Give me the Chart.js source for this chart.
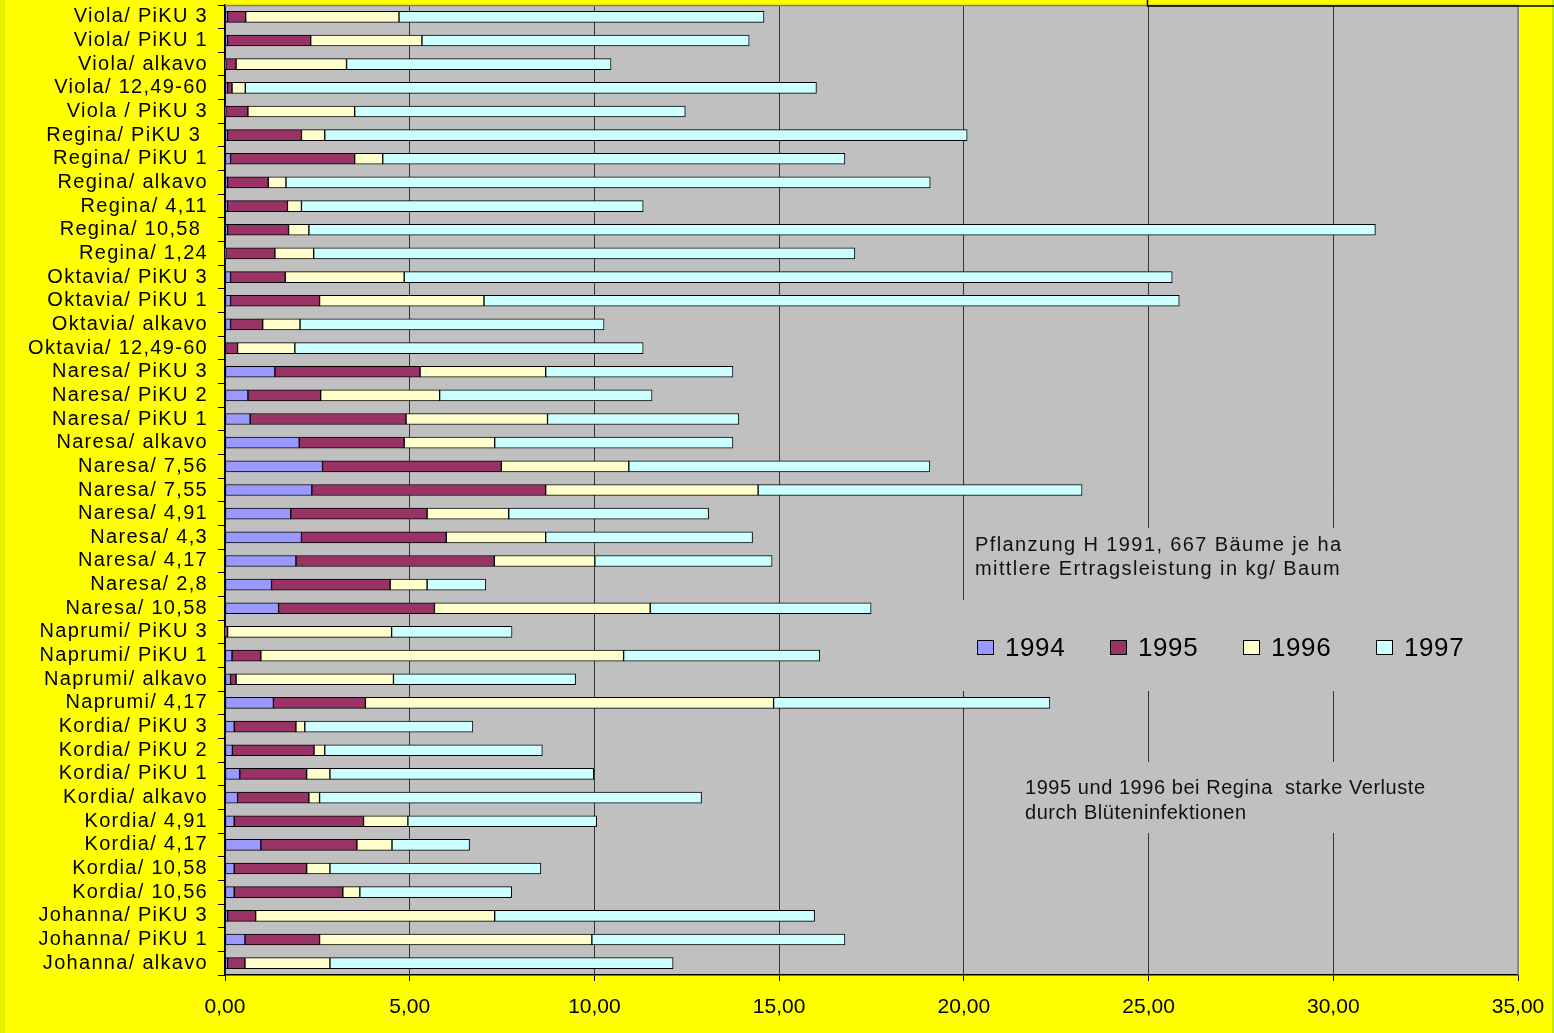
<!DOCTYPE html>
<html lang="de">
<head>
<meta charset="utf-8">
<title>Ertragsleistung Süßkirschen 1994–1997</title>
<script src="https://cdn.jsdelivr.net/npm/chart.js@4.4.1/dist/chart.umd.min.js"></script>
<style>
  html, body { margin: 0; padding: 0; background: #ffff00; overflow: hidden; }
  #wrap { width: 1554px; height: 1033px; }
</style>
</head>
<body>
<div id="wrap"><canvas id="chart" width="1554" height="1033"></canvas></div>
<script>
// Sorte / Unterlage, top to bottom
const categories = [
  'Viola/ PiKU 3', 'Viola/ PiKU 1', 'Viola/ alkavo', 'Viola/ 12,49-60', 'Viola / PiKU 3',
  'Regina/ PiKU 3 ', 'Regina/ PiKU 1', 'Regina/ alkavo', 'Regina/ 4,11', 'Regina/ 10,58 ', 'Regina/ 1,24',
  'Oktavia/ PiKU 3', 'Oktavia/ PiKU 1', 'Oktavia/ alkavo', 'Oktavia/ 12,49-60',
  'Naresa/ PiKU 3', 'Naresa/ PiKU 2', 'Naresa/ PiKU 1', 'Naresa/ alkavo', 'Naresa/ 7,56', 'Naresa/ 7,55',
  'Naresa/ 4,91', 'Naresa/ 4,3', 'Naresa/ 4,17', 'Naresa/ 2,8', 'Naresa/ 10,58',
  'Naprumi/ PiKU 3', 'Naprumi/ PiKU 1', 'Naprumi/ alkavo', 'Naprumi/ 4,17',
  'Kordia/ PiKU 3', 'Kordia/ PiKU 2', 'Kordia/ PiKU 1', 'Kordia/ alkavo', 'Kordia/ 4,91', 'Kordia/ 4,17',
  'Kordia/ 10,58', 'Kordia/ 10,56',
  'Johanna/ PiKU 3', 'Johanna/ PiKU 1', 'Johanna/ alkavo'
];

// Ertrag in kg je Baum
const yield1994 = [
  0.07, 0.07, 0.02, 0.07, 0.02,
  0.07, 0.15, 0.07, 0.07, 0.07, 0.02,
  0.15, 0.15, 0.15, 0.00,
  1.35, 0.62, 0.68, 2.01, 2.64, 2.35,
  1.78, 2.07, 1.92, 1.26, 1.45,
  0.02, 0.19, 0.15, 1.31,
  0.25, 0.20, 0.40, 0.34, 0.25, 0.97,
  0.25, 0.25,
  0.07, 0.54, 0.07
];
const yield1995 = [
  0.49, 2.25, 0.28, 0.12, 0.60,
  2.00, 3.36, 1.10, 1.62, 1.65, 1.33,
  1.48, 2.41, 0.87, 0.34,
  3.93, 1.97, 4.22, 2.84, 4.84, 6.33,
  3.69, 3.92, 5.37, 3.21, 4.22,
  0.05, 0.78, 0.15, 2.49,
  1.67, 2.21, 1.81, 1.93, 3.50, 2.60,
  1.96, 2.94,
  0.76, 2.02, 0.47
];
const yield1996 = [
  4.15, 3.01, 2.99, 0.36, 2.89,
  0.63, 0.76, 0.48, 0.38, 0.55, 1.05,
  3.22, 4.45, 1.01, 1.55,
  3.40, 3.22, 3.83, 2.45, 3.45, 5.75,
  2.21, 2.69, 2.72, 1.00, 5.84,
  4.44, 9.82, 4.26, 11.05,
  0.24, 0.29, 0.63, 0.29, 1.20, 0.95,
  0.63, 0.46,
  6.47, 7.37, 2.30
];
const yield1997 = [
  9.88, 8.86, 7.16, 15.46, 8.95,
  17.39, 12.51, 17.44, 9.25, 28.87, 14.65,
  20.79, 18.82, 8.23, 9.43,
  5.07, 5.75, 5.18, 6.45, 8.15, 8.77,
  5.41, 5.60, 4.80, 1.59, 5.98,
  3.26, 5.31, 4.93, 7.48,
  4.55, 5.89, 7.14, 10.34, 5.11, 2.10,
  5.71, 4.11,
  8.66, 6.85, 9.29
];

const seriesNames = ['1994', '1995', '1996', '1997'];
const seriesColors = ['#9999ff', '#993366', '#ffffcc', '#ccffff'];

const xMin = 0, xMax = 35, xStep = 5;

const noteTop = ['Pflanzung H 1991, 667 Bäume je ha', 'mittlere Ertragsleistung in kg/ Baum'];
const noteRegina = ['1995 und 1996 bei Regina  starke Verluste', 'durch Blüteninfektionen'];

// Category axis whose labels are drawn slightly tracked out
class SpacedCategoryScale extends Chart.CategoryScale {
  drawLabels(area) {
    const ctx = this.ctx;
    ctx.save();
    ctx.letterSpacing = '1.3px';
    super.drawLabels(area);
    ctx.restore();
  }
}
SpacedCategoryScale.id = 'spacedCategory';
SpacedCategoryScale.defaults = Chart.CategoryScale.defaults;
Chart.register(SpacedCategoryScale);

const PLOT_GRAY = '#c0c0c0';

function drawLines(ctx, lines, x, y, lineGap, spacing) {
  ctx.save();
  ctx.font = '20px "Liberation Sans", Arial, sans-serif';
  ctx.fillStyle = '#111';
  ctx.textAlign = 'left';
  ctx.textBaseline = 'middle';
  ctx.letterSpacing = spacing;
  lines.forEach((t, i) => ctx.fillText(t, x, y + i * lineGap));
  ctx.restore();
}

const decorPlugin = {
  id: 'decor',
  beforeDraw(chart) {
    const { ctx, chartArea: a } = chart;
    ctx.save();
    ctx.fillStyle = '#ffff00';
    ctx.fillRect(0, 0, chart.width, chart.height);
    ctx.fillStyle = '#e6f300';
    ctx.fillRect(0, 0, 5, chart.height);
    ctx.fillStyle = '#c9ea00';
    ctx.fillRect(chart.width - 2, 0, 2, chart.height);
    ctx.fillStyle = PLOT_GRAY;
    ctx.fillRect(a.left, a.top, a.right - a.left, a.bottom - a.top);
    ctx.restore();
  },
  beforeDatasetsDraw(chart) {
    const { ctx, chartArea: a } = chart;
    ctx.save();
    // plot frame (top and right)
    ctx.strokeStyle = '#808080';
    ctx.lineWidth = 1.5;
    ctx.beginPath();
    ctx.moveTo(a.left, a.top + 0.5);
    ctx.lineTo(a.right, a.top + 0.5);
    ctx.lineTo(a.right, a.bottom);
    ctx.stroke();

    // text boxes share the plot fill
    ctx.fillStyle = PLOT_GRAY;
    ctx.fillRect(966, 528, 390, 72);
    ctx.fillRect(952, 600, 540, 91);
    ctx.fillRect(1012, 762, 430, 71);
    ctx.restore();

    drawLines(ctx, noteTop, 975, 545, 24.5, '1.4px');
    drawLines(ctx, noteRegina, 1025, 788, 25, '0.55px');

    // legend
    ctx.save();
    ctx.font = '26px "Liberation Sans", Arial, sans-serif';
    ctx.textBaseline = 'middle';
    ctx.textAlign = 'left';
    ctx.letterSpacing = '0.6px';
    chart.data.datasets.forEach((ds, i) => {
      const x = 977 + i * 133;
      const yc = 648;
      ctx.fillStyle = ds.backgroundColor;
      ctx.fillRect(x, yc - 8, 17, 15);
      ctx.strokeStyle = '#000';
      ctx.lineWidth = 1;
      ctx.strokeRect(x + 0.5, yc - 7.5, 16, 14);
      ctx.fillStyle = '#000';
      ctx.fillText(ds.label, x + 28, yc + 1);
    });
    ctx.restore();
  },
  afterDraw(chart) {
    const { ctx } = chart;
    ctx.save();
    ctx.strokeStyle = '#000';
    ctx.lineWidth = 1.5;
    ctx.beginPath();
    ctx.moveTo(1147.5, 0);
    ctx.lineTo(1147.5, 6);
    ctx.lineTo(chart.width, 6);
    ctx.stroke();
    ctx.restore();
  }
};

const datasets = [yield1994, yield1995, yield1996, yield1997].map((vals, i) => ({
  label: seriesNames[i],
  data: vals,
  backgroundColor: seriesColors[i],
  borderColor: '#000',
  borderWidth: 1,
  borderSkipped: false,
  barThickness: 11
}));

new Chart(document.getElementById('chart'), {
  type: 'bar',
  data: { labels: categories, datasets },
  options: {
    indexAxis: 'y',
    responsive: false,
    animation: false,
    devicePixelRatio: 1,
    layout: { padding: { top: 5, right: 36, left: 0, bottom: 0 } },
    plugins: {
      legend: { display: false },
      tooltip: { enabled: false },
      title: { display: false }
    },
    scales: {
      x: {
        type: 'linear',
        stacked: true,
        min: xMin,
        max: xMax,
        ticks: {
          stepSize: xStep,
          color: '#000',
          padding: 14,
          maxRotation: 0,
          font: { family: '"Liberation Sans", Arial, sans-serif', size: 21 },
          callback: v => v.toFixed(2).replace('.', ',')
        },
        grid: {
          color: c => (c.tick && c.tick.value === xMax ? '#808080' : '#333333'),
          lineWidth: 1,
          tickLength: 6,
          tickColor: '#000'
        },
        border: { color: '#000', width: 1.5 },
        afterFit: s => {
          s.height = 58;
          s.paddingLeft = 0;
          s.paddingRight = 0;
        }
      },
      y: {
        type: 'spacedCategory',
        stacked: true,
        ticks: {
          color: '#000',
          padding: 10,
          autoSkip: false,
          font: { family: '"Liberation Sans", Arial, sans-serif', size: 20 }
        },
        grid: {
          offset: true,
          drawOnChartArea: false,
          tickLength: 7,
          tickColor: '#000'
        },
        border: { color: '#000', width: 1.5 },
        afterFit: s => {
          s.width = 225;
          s.paddingTop = 0;
          s.paddingBottom = 0;
        }
      }
    }
  },
  plugins: [decorPlugin]
});
</script>
</body>
</html>
